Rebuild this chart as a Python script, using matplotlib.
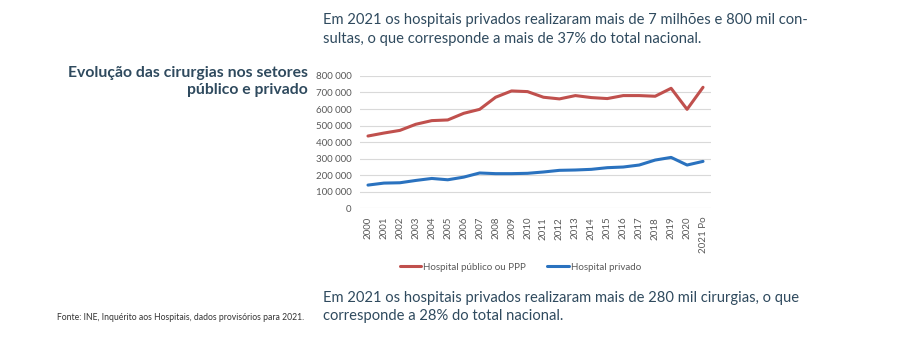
import matplotlib

matplotlib.use("Agg")

from matplotlib import pyplot as plt
from matplotlib.ticker import FuncFormatter

YEARS = [str(y) for y in range(2000, 2021)] + ["2021 Po"]
PUBLICO = [437000, 455000, 471000, 508000, 530000, 534000, 574000, 598000, 671000, 709000, 705000,
           671000, 661000, 681000, 669000, 663000, 681000, 681000, 677000, 725000, 598000, 731000]
PRIVADO = [141000, 153000, 155000, 169000, 181000, 173000, 189000, 214000, 210000, 210000, 212000,
           220000, 230000, 232000, 236000, 246000, 250000, 262000, 292000, 308000, 262000, 284000]
SERIES_LABELS = ["Hospital público ou PPP", "Hospital privado"]

TITLE = "Evolução das cirurgias nos setores\npúblico e privado"
TOP_NOTE = ("Em 2021 os hospitais privados realizaram mais de 7 milhões e 800 mil con-\n"
            "sultas, o que corresponde a mais de 37% do total nacional.")
BOTTOM_NOTE = ("Em 2021 os hospitais privados realizaram mais de 280 mil cirurgias, o que\n"
               "corresponde a 28% do total nacional.")
SOURCE = "Fonte: INE, Inquérito aos Hospitais, dados provisórios para 2021."

RED = "#c0504d"
BLUE = "#2a72bf"
DARK = "#2f4a5e"
GREY = "#595959"

plt.rcParams["font.family"] = ["Lato", "DejaVu Sans"]

fig = plt.figure(figsize=(9.0, 3.48), dpi=100)
ax = fig.add_axes([0.4, 0.401, 0.39, 0.381])

x = list(range(len(YEARS)))
l1, = ax.plot(x, PUBLICO, color=RED, linewidth=2.2, solid_capstyle="round")
l2, = ax.plot(x, PRIVADO, color=BLUE, linewidth=2.2, solid_capstyle="round")

ax.set_xlim(-0.5, len(YEARS) - 0.5)
ax.set_ylim(0, 800000)
ax.set_yticks(range(0, 800001, 100000))
ax.yaxis.set_major_formatter(FuncFormatter(lambda v, _: f"{int(v):,}".replace(",", " ")))
ax.set_xticks(x)
ax.set_xticklabels(YEARS, rotation=90)
ax.tick_params(axis="both", length=0, labelsize=7, labelcolor=GREY, pad=6)
ax.grid(axis="y", color="#d9d9d9", linewidth=0.8)
ax.set_axisbelow(True)
for spine in ax.spines.values():
    spine.set_visible(False)

fig.legend([l1, l2], SERIES_LABELS, loc="center", bbox_to_anchor=(0.578, 0.232), ncol=2,
           frameon=False, fontsize=7, labelcolor=GREY, handlelength=2.2, handletextpad=0.2,
           columnspacing=2.2)

fig.text(0.342, 0.81, TITLE, ha="right", va="top", fontsize=11.3, fontweight="bold",
         color=DARK, linespacing=1.22)
fig.text(0.359, 0.962, TOP_NOTE, ha="left", va="top", fontsize=10.6, color=DARK, linespacing=1.4)
fig.text(0.359, 0.165, BOTTOM_NOTE, ha="left", va="top", fontsize=10.6, color=DARK, linespacing=1.4)
fig.text(0.338, 0.088, SOURCE, ha="right", va="center", fontsize=6.2, color="#333333")

fig.savefig("out.png", dpi=100, facecolor="white")
